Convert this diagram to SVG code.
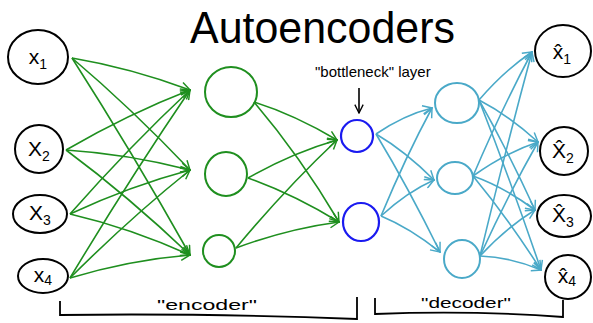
<svg xmlns="http://www.w3.org/2000/svg" width="593" height="323" viewBox="0 0 593 323">
<defs>
<marker id="ag" viewBox="0 0 12 12" refX="11" refY="6" markerWidth="11" markerHeight="11" markerUnits="userSpaceOnUse" orient="auto"><path d="M1,1 L11,6 L1,11" fill="none" stroke="#1f8f1f" stroke-width="1.6"/></marker>
<marker id="ac" viewBox="0 0 12 12" refX="11" refY="6" markerWidth="11" markerHeight="11" markerUnits="userSpaceOnUse" orient="auto"><path d="M1,1 L11,6 L1,11" fill="none" stroke="#4aa9c8" stroke-width="1.6"/></marker>
<marker id="ak" viewBox="0 0 12 12" refX="11" refY="6" markerWidth="10" markerHeight="10" markerUnits="userSpaceOnUse" orient="auto"><path d="M1,1 L11,6 L1,11" fill="none" stroke="#000" stroke-width="1.6"/></marker>
</defs>
<style>
.io{fill:none;stroke:#000;stroke-width:2}
.enc{fill:none;stroke:#1f8f1f;stroke-width:2}
.bot{fill:none;stroke:#1a1af0;stroke-width:2.2}
.dec{fill:none;stroke:#4aa9c8;stroke-width:2}
.eg{fill:none;stroke:#1f8f1f;stroke-width:1.6;marker-end:url(#ag)}
.ec{fill:none;stroke:#4aa9c8;stroke-width:1.6;marker-end:url(#ac)}
.lbl{font-family:"Liberation Sans",Arial,sans-serif;font-size:21px;fill:#000;text-anchor:middle}
.sub{font-size:14px}
.hand{font-family:"Liberation Sans",Arial,sans-serif;font-size:15px;fill:#000}
.title{font-family:"Liberation Sans",Arial,sans-serif;font-size:44px;fill:#000}
.br{fill:none;stroke:#000;stroke-width:1.8}
</style>
<rect width="593" height="323" fill="#fff"/>
<text class="title" x="190" y="43" textLength="265" lengthAdjust="spacingAndGlyphs">Autoencoders</text>

<g id="connectors">
<path class="eg" d="M72,58 Q131,68 190,90"/>
<path class="eg" d="M72,58 Q131,108 190,170"/>
<path class="eg" d="M72,58 Q131,150 190,255"/>
<path class="eg" d="M66,150 Q128,114 190,90"/>
<path class="eg" d="M66,150 Q128,154 190,170"/>
<path class="eg" d="M66,150 Q128,196 190,255"/>
<path class="eg" d="M70,214 Q130,146 190,90"/>
<path class="eg" d="M70,214 Q130,186 190,170"/>
<path class="eg" d="M70,214 Q130,228 190,255"/>
<path class="eg" d="M70,278 Q130,178 190,90"/>
<path class="eg" d="M70,278 Q130,218 190,170"/>
<path class="eg" d="M70,278 Q130,260 190,255"/>
<path class="eg" d="M254,102 Q295,115 337,140"/>
<path class="eg" d="M254,102 Q300,156 339,222"/>
<path class="eg" d="M248,178 Q292,153 337,140"/>
<path class="eg" d="M248,178 Q293,194 339,222"/>
<path class="eg" d="M236,248 Q286,188 337,140"/>
<path class="eg" d="M236,248 Q287,229 339,222"/>
<path class="ec" d="M376,134 Q404,115 432,108"/>
<path class="ec" d="M376,134 Q405,151 434,180"/>
<path class="ec" d="M376,134 Q408,187 440,252"/>
<path class="ec" d="M381,216 Q406,156 432,108"/>
<path class="ec" d="M381,216 Q407,192 434,180"/>
<path class="ec" d="M381,216 Q410,228 440,252"/>
<path class="ec" d="M479,100 Q505,70 532,52"/>
<path class="ec" d="M479,100 Q508,115 538,142"/>
<path class="ec" d="M479,100 Q507,149 535,210"/>
<path class="ec" d="M479,100 Q510,179 541,270"/>
<path class="ec" d="M473,176 Q502,108 532,52"/>
<path class="ec" d="M473,176 Q505,153 538,142"/>
<path class="ec" d="M473,176 Q504,187 535,210"/>
<path class="ec" d="M473,176 Q507,217 541,270"/>
<path class="ec" d="M480,256 Q506,148 532,52"/>
<path class="ec" d="M480,256 Q509,193 538,142"/>
<path class="ec" d="M480,256 Q507,227 535,210"/>
<path class="ec" d="M480,256 Q510,257 541,270"/>
<path d="M359,88 L359,113" fill="none" stroke="#000" stroke-width="1.6" marker-end="url(#ak)"/>
</g>

<g id="x1"><ellipse class="io" cx="38" cy="57" rx="30" ry="27"/><text class="lbl" x="38" y="64">x<tspan class="sub" dy="5">1</tspan></text></g>
<g id="x2"><ellipse class="io" cx="39" cy="149" rx="24" ry="24"/><text class="lbl" x="39" y="156">X<tspan class="sub" dy="5">2</tspan></text></g>
<g id="x3"><ellipse class="io" cx="40" cy="214" rx="27" ry="19"/><text class="lbl" x="40" y="220">X<tspan class="sub" dy="5">3</tspan></text></g>
<g id="x4"><ellipse class="io" cx="43" cy="276" rx="25" ry="17"/><text class="lbl" x="43" y="282">x<tspan class="sub" dy="3">4</tspan></text></g>

<g id="h1"><ellipse class="enc" cx="231" cy="92" rx="26" ry="25"/></g>
<g id="h2"><ellipse class="enc" cx="226" cy="174" rx="21" ry="22"/></g>
<g id="h3"><ellipse class="enc" cx="219" cy="251" rx="16" ry="16"/></g>

<g id="b1"><ellipse class="bot" cx="357" cy="136" rx="16" ry="16"/></g>
<g id="b2"><ellipse class="bot" cx="361" cy="222" rx="18" ry="19"/></g>

<g id="d1"><ellipse class="dec" cx="457" cy="103" rx="22" ry="20"/></g>
<g id="d2"><ellipse class="dec" cx="455" cy="178" rx="18" ry="16"/></g>
<g id="d3"><ellipse class="dec" cx="462" cy="259" rx="18" ry="19"/></g>

<g id="o1"><ellipse class="io" cx="563" cy="51" rx="28" ry="26"/><text class="lbl" x="562" y="59">x̂<tspan class="sub" dy="5">1</tspan></text></g>
<g id="o2"><ellipse class="io" cx="564" cy="151" rx="24" ry="24"/><text class="lbl" x="563" y="158">X̂<tspan class="sub" dy="5">2</tspan></text></g>
<g id="o3"><ellipse class="io" cx="564" cy="216" rx="27" ry="21"/><text class="lbl" x="563" y="222">X̂<tspan class="sub" dy="5">3</tspan></text></g>
<g id="o4"><ellipse class="io" cx="568" cy="277" rx="23" ry="22"/><text class="lbl" x="567" y="283">x̂<tspan class="sub" dy="3">4</tspan></text></g>

<text class="hand" x="315" y="77">"bottleneck" layer</text>
<text class="hand" x="157" y="310" textLength="100" lengthAdjust="spacingAndGlyphs">"encoder"</text>
<text class="hand" x="421" y="308" textLength="90" lengthAdjust="spacingAndGlyphs">"decoder"</text>

<path class="br" d="M60,301 L60,315 Q200,313 357,319 L357,297"/>
<path class="br" d="M375,298 L375,314 Q470,310 563,317 L563,300"/>
</svg>
